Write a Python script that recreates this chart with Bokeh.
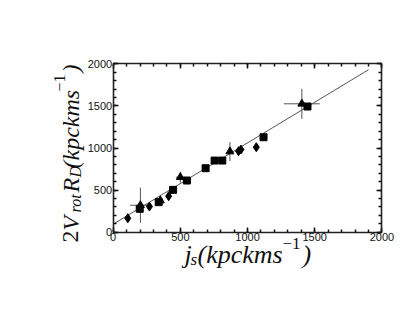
import math
from bokeh.plotting import figure
from bokeh.models import (ColumnDataSource, LinearAxis, Range1d, Label,
                          FixedTicker)
from bokeh.embed import file_html
from bokeh.resources import INLINE

# ---- data ----
diamond_x = [109, 270, 413, 933, 951, 1065]
diamond_y = [166, 305, 428, 962, 982, 1010]

square_x = [198, 339, 446, 549, 688, 755, 812, 1119, 1446]
square_y = [278, 357, 503, 614, 760, 851, 851, 1128, 1493]

triangle_x = [203, 351, 500, 869, 1404]
triangle_y = [320, 376, 653, 958, 1525]
triangle_xerr = [77, 0, 33, 0, 134]
triangle_yerr = [210, 0, 65, 113, 178]

fit_x = [0, 1900]
fit_y = [95, 1930]

x_ticks = [0, 500, 1000, 1500, 2000]
y_ticks = [0, 500, 1000, 1500, 2000]
minor_ticks = list(range(0, 2001, 100))
axis_lo, axis_hi = 0, 2000

W, H = 400, 300
# frame fills the canvas; axes are pinned at the data box edges
p = figure(width=W, height=H, output_backend="svg", toolbar_location=None,
           x_range=Range1d(-838, 2138), y_range=Range1d(-811, 2752),
           min_border=0, x_axis_type=None, y_axis_type=None)
p.grid.visible = False
p.outline_line_color = None
p.background_fill_color = "white"
p.border_fill_color = "white"

def style_axis(ax, ticks, labels=True):
    ax.ticker = FixedTicker(ticks=ticks, minor_ticks=minor_ticks)
    ax.bounds = (axis_lo, axis_hi)
    ax.axis_line_color = "#222222"
    ax.axis_line_width = 1.6
    ax.major_tick_in = 5
    ax.major_tick_out = 0
    ax.minor_tick_in = 3
    ax.minor_tick_out = 0
    ax.major_tick_line_color = "#111111"
    ax.major_tick_line_width = 1.5
    ax.minor_tick_line_color = "#111111"
    ax.minor_tick_line_width = 1.5
    ax.major_label_text_font = "Liberation Sans"
    ax.major_label_text_font_size = "11px"
    ax.major_label_text_color = "#111111"
    ax.major_label_standoff = 1
    if not labels:
        ax.major_label_text_alpha = 0
        ax.major_label_text_font_size = "0px"

p.add_layout(LinearAxis(fixed_location=axis_lo), "below")
p.add_layout(LinearAxis(fixed_location=axis_lo), "left")
p.add_layout(LinearAxis(fixed_location=axis_hi), "above")
p.add_layout(LinearAxis(fixed_location=axis_hi), "right")
for ax in p.below:
    style_axis(ax, x_ticks, True)
for ax in p.left:
    style_axis(ax, y_ticks, True)
for ax in p.above:
    style_axis(ax, x_ticks, False)
for ax in p.right:
    style_axis(ax, y_ticks, False)

# fit line
p.line(fit_x, fit_y, line_color="#555555", line_width=1)

# error bars
tri = ColumnDataSource(dict(x=triangle_x, y=triangle_y,
                            x0=[a - e for a, e in zip(triangle_x, triangle_xerr)],
                            x1=[a + e for a, e in zip(triangle_x, triangle_xerr)],
                            y0=[a - e for a, e in zip(triangle_y, triangle_yerr)],
                            y1=[a + e for a, e in zip(triangle_y, triangle_yerr)]))
p.segment(x0="x0", y0="y", x1="x1", y1="y", source=tri,
          line_color="#555555", line_width=1)
p.segment(x0="x", y0="y0", x1="x", y1="y1", source=tri,
          line_color="#555555", line_width=1)

p.scatter(diamond_x, diamond_y, marker="diamond", size=9,
          fill_color="black", line_color="black")
p.scatter(square_x, square_y, marker="square", size=7,
          fill_color="black", line_color="black")
p.scatter("x", "y", source=tri, marker="triangle", size=8,
          fill_color="black", line_color="black")

# ---- axis titles composed of pieces (picture px -> screen) ----
def sx(px):
    return px

def sy(py):
    return H - py

SER = "Liberation Serif"

def lab(text, px, py, size, style="italic", angle=0.0):
    p.add_layout(Label(x=sx(px), y=sy(py), x_units="screen", y_units="screen",
                       text=text, text_font=SER, text_font_style=style,
                       text_font_size=f"{size}px", text_color="#111111",
                       text_align="left", text_baseline="alphabetic",
                       angle=angle))

# x-axis title: j_s(kpckms^-1)
bx = 254
lab("j", 184, bx, 26)
lab("s", 190, bx + 5, 17)
lab("(kpckms", 197, bx, 26)
lab("\u22121", 282, bx - 11, 17, style="normal")
lab(")", 302, bx, 26)

# y-axis title: 2V_rot R_D(kpckms^-1)
a = math.pi / 2
by = 70
lab("2", by, 242, 24, style="normal", angle=a)
lab("V", by, 230, 24, angle=a)
lab("rot", by + 5, 212, 16, angle=a)
lab("R", by, 192, 24, angle=a)
lab("D", by + 5, 177, 16, angle=a)
lab("(kpckms", by, 168, 24, angle=a)
lab("\u22121", by - 11, 91, 16, style="normal", angle=a)
lab(")", by, 72, 24, angle=a)

open("out.html", "w").write(file_html(p, INLINE))
